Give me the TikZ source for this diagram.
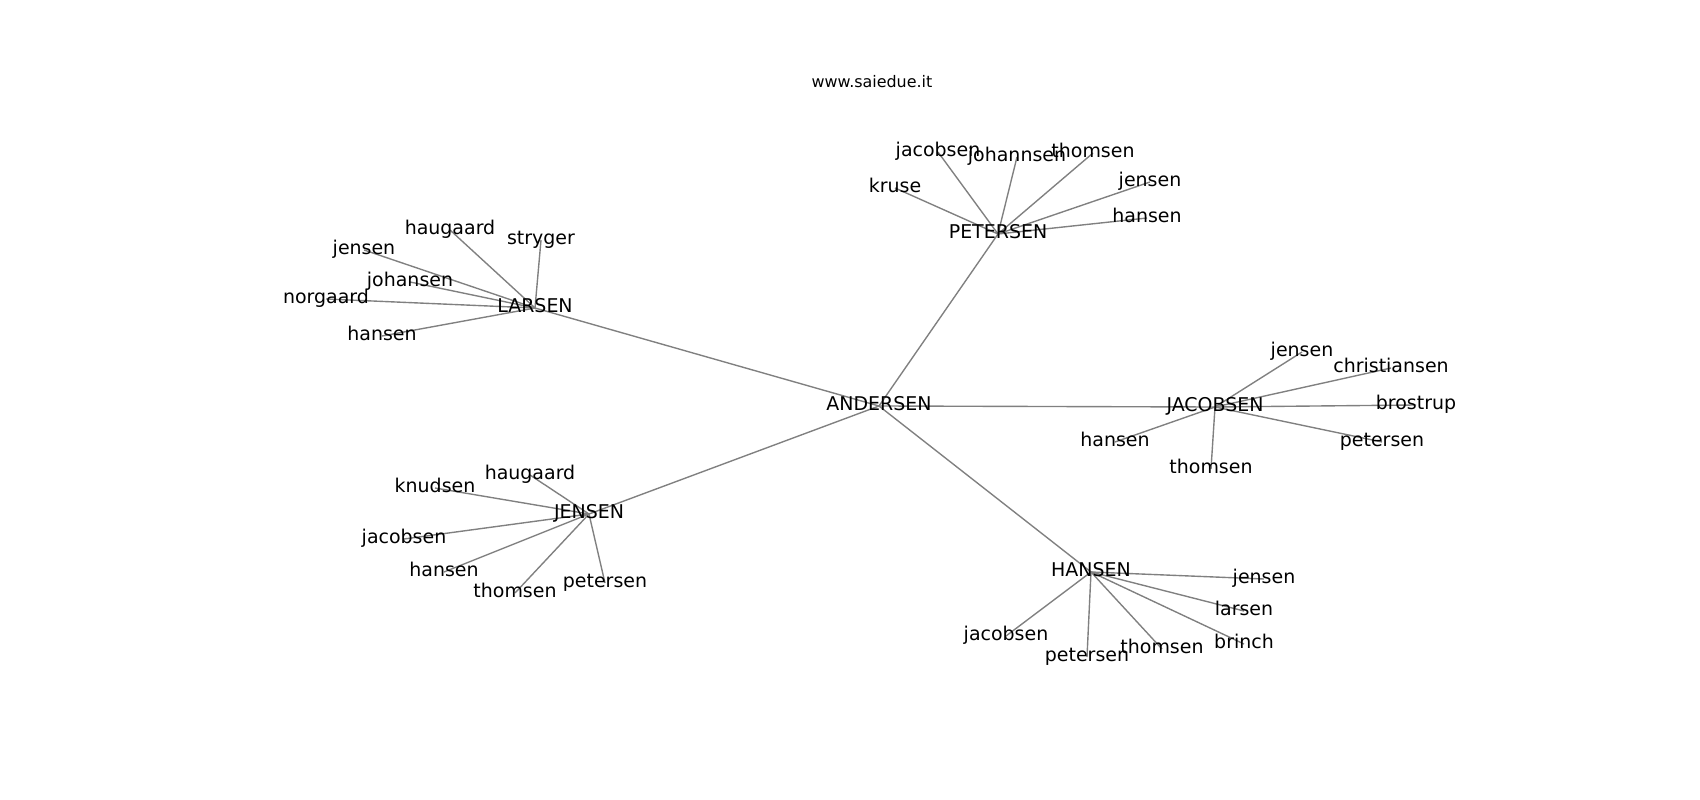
\documentclass[tikz,border=0pt]{standalone}
\usepackage{fontspec}
\setmainfont{DejaVu Sans}
\usepackage{tikz}
\pgfdeclarelayer{edges}
\pgfsetlayers{edges,main}
\tikzset{lbl/.style = {inner sep = 0, text height = 0.78em, text depth = 0.2em,
                       font = \fontsize{13.7}{16}\selectfont}}
\tikzset{ttl/.style = {inner sep = 0, text height = 0.78em, text depth = 0.2em,
                       font = \fontsize{11.5}{14}\selectfont}}
\tikzset{link/.style = {draw = black!50, line width = 1pt}}

\begin{document}
\begin{tikzpicture}[x = 0.01in, y = -0.01in]
      \useasboundingbox (0, 0) rectangle (1700, 800);
      \node [ttl] (title) at (872, 83) {www.saiedue.it};

      \node [lbl] (andersen) at (879, 406) {ANDERSEN};

      \node [lbl] (petersen) at (998, 234) {PETERSEN};
      \node [lbl] (p-jacobsen) at (938, 152) {jacobsen};
      \node [lbl] (p-johannsen) at (1017, 157) {johannsen};
      \node [lbl] (p-thomsen) at (1093, 153) {thomsen};
      \node [lbl] (p-kruse) at (895, 188) {kruse};
      \node [lbl] (p-jensen) at (1150, 182) {jensen};
      \node [lbl] (p-hansen) at (1147, 218) {hansen};

      \node [lbl] (larsen) at (535, 308) {LARSEN};
      \node [lbl] (l-haugaard) at (450, 230) {haugaard};
      \node [lbl] (l-stryger) at (541, 240) {stryger};
      \node [lbl] (l-jensen) at (364, 250) {jensen};
      \node [lbl] (l-johansen) at (410, 282) {johansen};
      \node [lbl] (l-norgaard) at (326, 299) {norgaard};
      \node [lbl] (l-hansen) at (382, 336) {hansen};

      \node [lbl] (jacobsen) at (1215, 407) {JACOBSEN};
      \node [lbl] (c-jensen) at (1302, 352) {jensen};
      \node [lbl] (c-christiansen) at (1391, 368) {christiansen};
      \node [lbl] (c-brostrup) at (1416, 405) {brostrup};
      \node [lbl] (c-petersen) at (1382, 442) {petersen};
      \node [lbl] (c-hansen) at (1115, 442) {hansen};
      \node [lbl] (c-thomsen) at (1211, 469) {thomsen};

      \node [lbl] (jensen) at (589, 514) {JENSEN};
      \node [lbl] (j-haugaard) at (530, 475) {haugaard};
      \node [lbl] (j-knudsen) at (435, 488) {knudsen};
      \node [lbl] (j-jacobsen) at (404, 539) {jacobsen};
      \node [lbl] (j-hansen) at (444, 572) {hansen};
      \node [lbl] (j-thomsen) at (515, 593) {thomsen};
      \node [lbl] (j-petersen) at (605, 583) {petersen};

      \node [lbl] (hansen) at (1091, 572) {HANSEN};
      \node [lbl] (h-jensen) at (1264, 579) {jensen};
      \node [lbl] (h-larsen) at (1244, 611) {larsen};
      \node [lbl] (h-brinch) at (1244, 644) {brinch};
      \node [lbl] (h-thomsen) at (1162, 649) {thomsen};
      \node [lbl] (h-petersen) at (1087, 657) {petersen};
      \node [lbl] (h-jacobsen) at (1006, 636) {jacobsen};

      \begin{pgfonlayer}{edges}
        \foreach \n in {petersen, larsen, jacobsen, jensen, hansen}
          \draw [link] (andersen.center) -- (\n.center);
        \foreach \n in {jacobsen, johannsen, thomsen, kruse, jensen, hansen}
          \draw [link] (petersen.center) -- (p-\n.center);
        \foreach \n in {haugaard, stryger, jensen, johansen, norgaard, hansen}
          \draw [link] (larsen.center) -- (l-\n.center);
        \foreach \n in {jensen, christiansen, brostrup, petersen, hansen, thomsen}
          \draw [link] (jacobsen.center) -- (c-\n.center);
        \foreach \n in {haugaard, knudsen, jacobsen, hansen, thomsen, petersen}
          \draw [link] (jensen.center) -- (j-\n.center);
        \foreach \n in {jensen, larsen, brinch, thomsen, petersen, jacobsen}
          \draw [link] (hansen.center) -- (h-\n.center);
      \end{pgfonlayer}

    \end{tikzpicture}
\end{document}
